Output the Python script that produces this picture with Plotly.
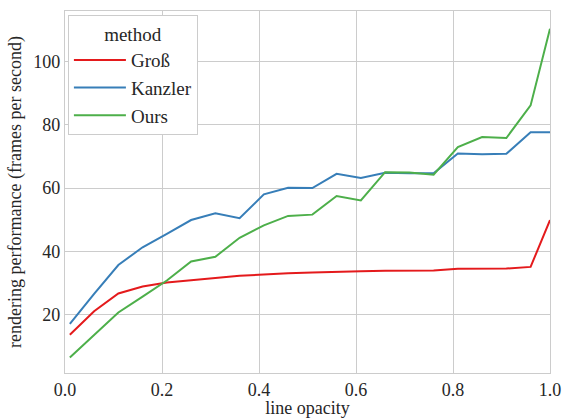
import plotly.graph_objects as go

opacity = [0.01, 0.06, 0.11, 0.16, 0.21, 0.26, 0.31, 0.36, 0.41, 0.46, 0.51,
           0.56, 0.61, 0.66, 0.71, 0.76, 0.81, 0.86, 0.91, 0.96, 1.0]
gross = [13.7, 21.1, 26.7, 28.9, 30.2, 31.0, 31.6, 32.3, 32.8, 33.1, 33.3,
         33.6, 33.7, 33.9, 33.9, 34.0, 34.5, 34.5, 34.6, 35.1, 49.9]
kanzler = [17.1, 26.6, 35.7, 41.3, 45.5, 49.9, 52.0, 50.5, 58.0, 60.1, 60.0,
           64.5, 63.2, 64.8, 64.7, 64.7, 70.9, 70.7, 70.8, 77.6, 77.6]
ours = [6.5, 13.7, 20.7, 25.7, 30.8, 36.8, 38.3, 44.3, 48.2, 51.2, 51.6,
        57.5, 56.1, 65.0, 64.9, 64.2, 72.9, 76.1, 75.8, 86.1, 110.3]
x_ticks = [0, 0.2, 0.4, 0.6, 0.8, 1.0]
x_ticktext = ["0.0", "0.2", "0.4", "0.6", "0.8", "1.0"]
y_ticks = [20, 40, 60, 80, 100]

series = [("Groß", gross, "#e41a1c"), ("Kanzler", kanzler, "#377eb8"), ("Ours", ours, "#4daf4a")]

FONT = "Liberation Serif, Times New Roman, serif"
TXT = "#262626"
FS = 18
LFS = 19

fig = go.Figure()
for name, vals, col in series:
    fig.add_trace(go.Scatter(x=opacity, y=vals, mode="lines", name=name,
                             line=dict(color=col, width=2)))

fig.update_layout(
    width=563, height=418,
    margin=dict(l=65, r=13, t=11, b=45),
    paper_bgcolor="white", plot_bgcolor="white",
    font=dict(family=FONT, size=FS, color=TXT),
    legend=dict(title=dict(text="method", side="top center",
                           font=dict(family=FONT, size=LFS, color=TXT)),
                x=0.006, y=0.988, xanchor="left", yanchor="top",
                bgcolor="white", bordercolor="#cccccc", borderwidth=1,
                itemwidth=52, traceorder="normal",
                font=dict(size=LFS, family=FONT, color=TXT)),
    showlegend=True,
)
fig.update_xaxes(range=[0, 1], tickvals=x_ticks, ticktext=x_ticktext,
                 showgrid=True, gridcolor="#cccccc", gridwidth=1,
                 showline=True, linecolor="#cccccc", linewidth=1.2, mirror=True,
                 zeroline=False, ticks="", automargin=False,
                 tickfont=dict(family=FONT, size=FS, color=TXT),
                 title=dict(text="line opacity", font=dict(family=FONT, size=FS, color=TXT), standoff=2))
fig.update_yaxes(range=[1.6, 115.9], tickvals=y_ticks,
                 showgrid=True, gridcolor="#cccccc", gridwidth=1,
                 showline=True, linecolor="#cccccc", linewidth=1.2, mirror=True,
                 zeroline=False, ticks="", automargin=False,
                 tickfont=dict(family=FONT, size=FS, color=TXT),
                 title=dict(text="rendering performance (frames per second)",
                            font=dict(family=FONT, size=FS, color=TXT), standoff=6))

fig.write_html("out.html", config={"displayModeBar": False},
               post_script="document.body.style.margin='0';document.body.style.padding='0';")
